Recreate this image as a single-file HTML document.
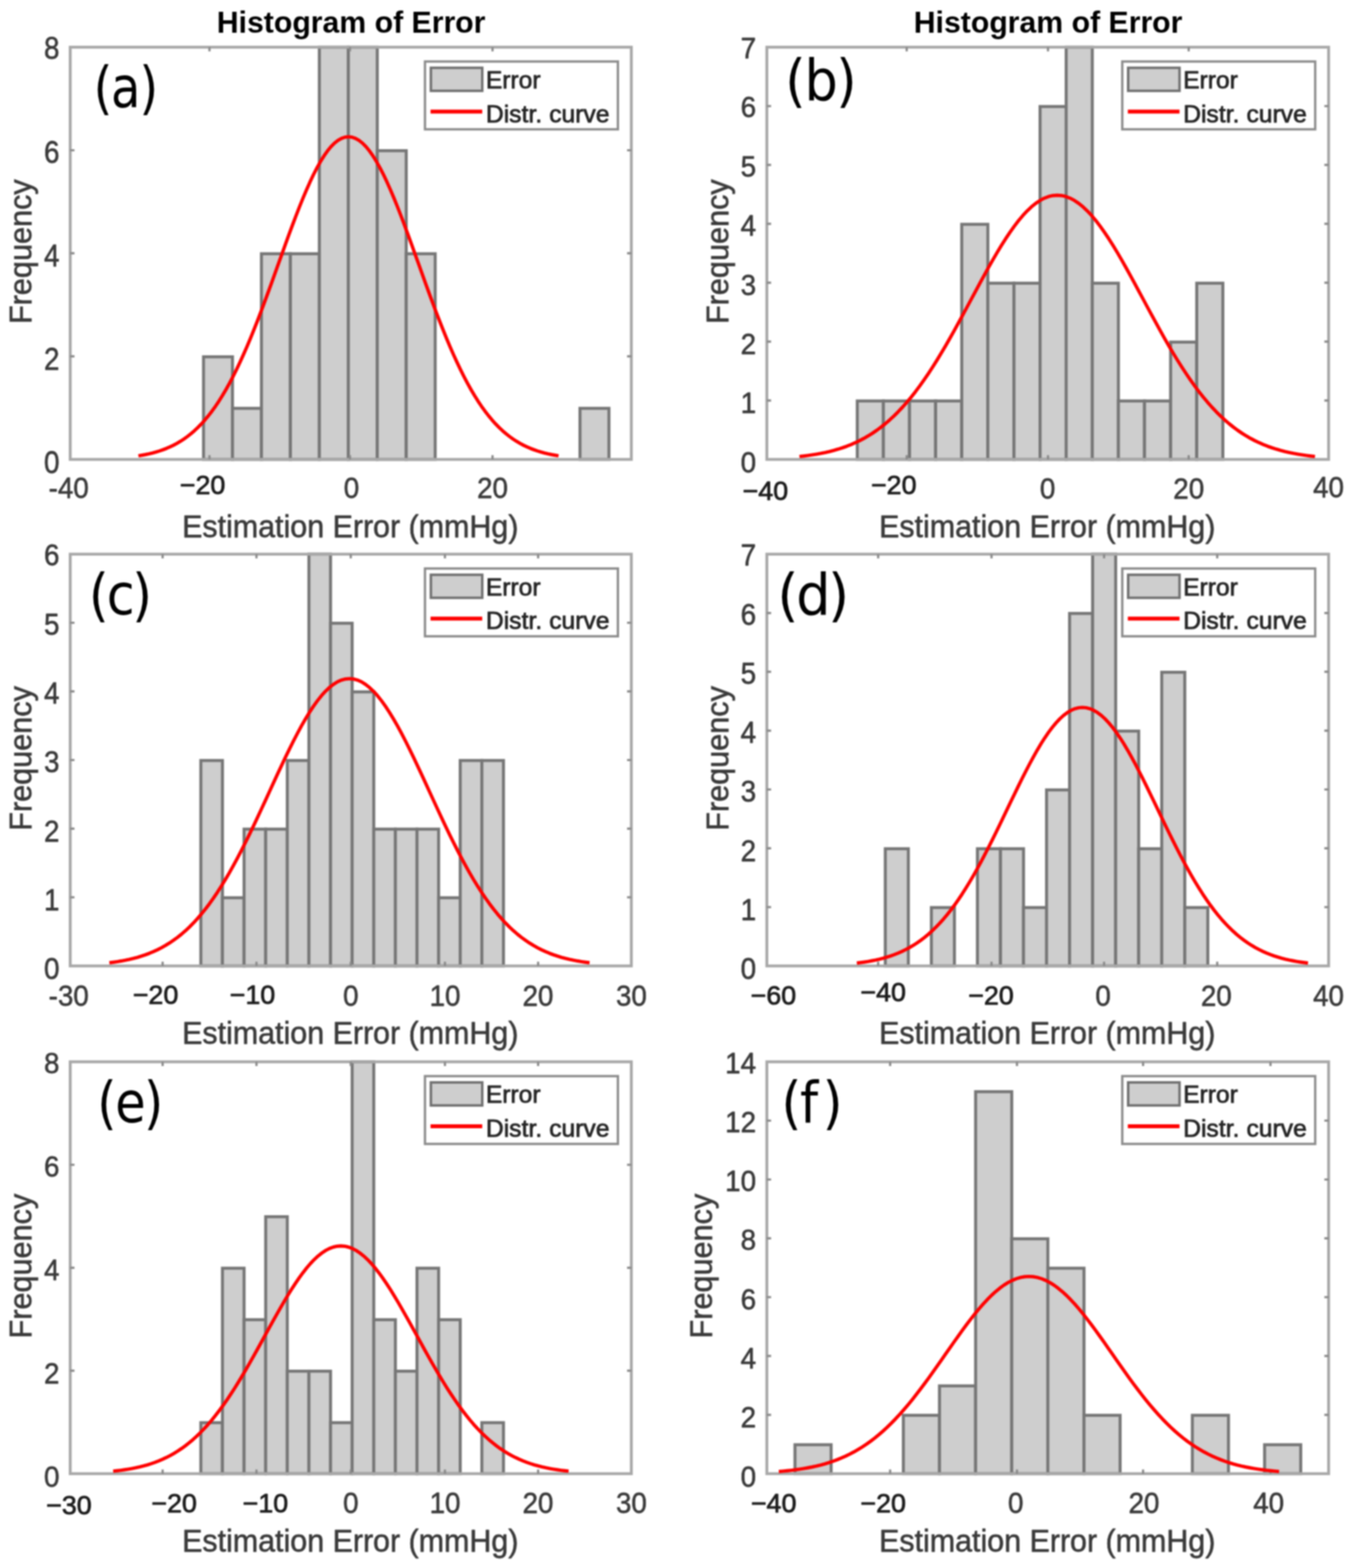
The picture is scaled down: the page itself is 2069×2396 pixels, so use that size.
<!DOCTYPE html>
<html lang="en">
<head>
<meta charset="utf-8">
<title>Histogram of Error</title>
<style>
html,body{margin:0;padding:0;background:#fff;}
body{width:2069px;height:2396px;}
svg{display:block;filter:blur(1.3px);}
text{white-space:pre;}
</style>
</head>
<body>
<svg width="2069" height="2396" viewBox="0 0 2069 2396">
<rect width="2069" height="2396" fill="#ffffff"/>
<g id="panel-a">
<g fill="#cecece" stroke="#767676" stroke-width="4.6" stroke-linejoin="miter">
<rect x="311" y="545.23" width="44.25" height="156.77"/>
<rect x="355.25" y="623.96" width="44.25" height="78.04"/>
<rect x="399.5" y="387.75" width="44.25" height="314.25"/>
<rect x="443.75" y="387.75" width="44.25" height="314.25"/>
<rect x="488" y="72.1" width="44.25" height="629.9"/>
<rect x="532.25" y="72.1" width="44.25" height="629.9"/>
<rect x="576.5" y="230.28" width="44.25" height="471.72"/>
<rect x="620.75" y="387.75" width="44.25" height="314.25"/>
<rect x="886.25" y="623.96" width="44.25" height="78.04"/>
</g>
<rect x="107.3" y="72.1" width="857.4" height="629.9" fill="none" stroke="#a8a8a8" stroke-width="4.4"/>
<path d="M320.1 702v-6.5M320.1 72.1v6.5M534.8 702v-6.5M534.8 72.1v6.5M752.6 702v-6.5M752.6 72.1v6.5M107.3 544.52h6.5M964.7 544.52h-6.5M107.3 387.05h6.5M964.7 387.05h-6.5M107.3 229.58h6.5M964.7 229.58h-6.5" stroke="#8a8a8a" stroke-width="3.4" fill="none"/>
<polyline points="211.5,696.52 216.85,695.64 222.2,694.64 227.55,693.51 232.9,692.22 238.25,690.76 243.6,689.12 248.95,687.28 254.3,685.21 259.65,682.91 265,680.34 270.35,677.49 275.7,674.33 281.05,670.84 286.4,666.99 291.75,662.78 297.1,658.16 302.45,653.13 307.8,647.65 313.15,641.7 318.5,635.28 323.85,628.35 329.2,620.91 334.55,612.94 339.9,604.44 345.25,595.38 350.6,585.78 355.95,575.62 361.3,564.93 366.65,553.7 372,541.95 377.35,529.7 382.7,516.97 388.05,503.8 393.4,490.23 398.75,476.29 404.1,462.03 409.45,447.51 414.8,432.79 420.15,417.92 425.5,402.98 430.85,388.04 436.2,373.18 441.55,358.48 446.9,344.01 452.25,329.86 457.6,316.13 462.95,302.88 468.3,290.21 473.65,278.2 479,266.93 484.35,256.47 489.7,246.9 495.05,238.29 500.4,230.69 505.75,224.17 511.1,218.76 516.45,214.52 521.8,211.46 527.15,209.62 532.5,209 537.85,209.62 543.2,211.46 548.55,214.52 553.9,218.76 559.25,224.17 564.6,230.69 569.95,238.29 575.3,246.9 580.65,256.47 586,266.93 591.35,278.2 596.7,290.21 602.05,302.88 607.4,316.13 612.75,329.86 618.1,344.01 623.45,358.48 628.8,373.18 634.15,388.04 639.5,402.98 644.85,417.92 650.2,432.79 655.55,447.51 660.9,462.03 666.25,476.29 671.6,490.23 676.95,503.8 682.3,516.97 687.65,529.7 693,541.95 698.35,553.7 703.7,564.93 709.05,575.62 714.4,585.78 719.75,595.38 725.1,604.44 730.45,612.94 735.8,620.91 741.15,628.35 746.5,635.28 751.85,641.7 757.2,647.65 762.55,653.13 767.9,658.16 773.25,662.78 778.6,666.99 783.95,670.84 789.3,674.33 794.65,677.49 800,680.34 805.35,682.91 810.7,685.21 816.05,687.28 821.4,689.12 826.75,690.76 832.1,692.22 837.45,693.51 842.8,694.64 848.15,695.64 853.5,696.52" fill="none" stroke="#ff0000" stroke-width="5.2" stroke-linejoin="round" stroke-linecap="butt"/>
<text transform="translate(90.8 723.14) scale(1.000 1.130)" font-size="42.5" text-anchor="end" fill="#3a3a3a" stroke="#3a3a3a" stroke-width="0.8" stroke-linejoin="round" font-family='"Liberation Sans", sans-serif'>0</text>
<text transform="translate(90.8 564.96) scale(1.000 1.130)" font-size="42.5" text-anchor="end" fill="#3a3a3a" stroke="#3a3a3a" stroke-width="0.8" stroke-linejoin="round" font-family='"Liberation Sans", sans-serif'>2</text>
<text transform="translate(90.8 406.79) scale(1.000 1.130)" font-size="42.5" text-anchor="end" fill="#3a3a3a" stroke="#3a3a3a" stroke-width="0.8" stroke-linejoin="round" font-family='"Liberation Sans", sans-serif'>4</text>
<text transform="translate(90.8 248.61) scale(1.000 1.130)" font-size="42.5" text-anchor="end" fill="#3a3a3a" stroke="#3a3a3a" stroke-width="0.8" stroke-linejoin="round" font-family='"Liberation Sans", sans-serif'>6</text>
<text transform="translate(90.8 90.44) scale(1.000 1.130)" font-size="42.5" text-anchor="end" fill="#3a3a3a" stroke="#3a3a3a" stroke-width="0.8" stroke-linejoin="round" font-family='"Liberation Sans", sans-serif'>8</text>
<text transform="translate(105 761) scale(1.000 1.060)" font-size="42.5" text-anchor="middle" fill="#3a3a3a" stroke="#3a3a3a" stroke-width="0.8" stroke-linejoin="round" font-family='"Liberation Sans", sans-serif'>-40</text>
<text x="309.5" y="755.1" font-size="41" text-anchor="middle" fill="#1c1c1c" stroke="#1c1c1c" stroke-width="1.1" stroke-linejoin="round" font-family='"Liberation Sans", sans-serif'>−20</text>
<text transform="translate(537 761) scale(1.000 1.060)" font-size="42.5" text-anchor="middle" fill="#3a3a3a" stroke="#3a3a3a" stroke-width="0.8" stroke-linejoin="round" font-family='"Liberation Sans", sans-serif'>0</text>
<text transform="translate(752.5 761) scale(1.000 1.060)" font-size="42.5" text-anchor="middle" fill="#3a3a3a" stroke="#3a3a3a" stroke-width="0.8" stroke-linejoin="round" font-family='"Liberation Sans", sans-serif'>20</text>
<text transform="translate(535.2 821.3) scale(1.000 1.050)" font-size="46.5" text-anchor="middle" fill="#3a3a3a" stroke="#3a3a3a" stroke-width="0.8" stroke-linejoin="round" font-family='"Liberation Sans", sans-serif'>Estimation Error (mmHg)</text>
<text transform="translate(48.1 384.55) rotate(-90) scale(1.006 1.04)" font-size="46.5" text-anchor="middle" fill="#3a3a3a" stroke="#3a3a3a" stroke-width="0.8" font-family='"Liberation Sans", sans-serif'>Frequency</text>
<text x="536.5" y="50.2" font-size="46.2" text-anchor="middle" fill="#000" font-weight="bold" font-family='"Liberation Sans", sans-serif'>Histogram of Error</text>
<rect x="649.4" y="94" width="294.8" height="103.6" fill="#fff" stroke="#8c8c8c" stroke-width="3.6"/>
<rect x="658.4" y="103.6" width="78.5" height="35.2" fill="#cecece" stroke="#707070" stroke-width="3.8"/>
<line x1="657.9" y1="170.5" x2="736.9" y2="170.5" stroke="#ff0000" stroke-width="6"/>
<text x="742.4" y="134.8" font-size="37.6" text-anchor="start" fill="#262626" stroke="#262626" stroke-width="1.1" stroke-linejoin="round" font-family='"Liberation Sans", sans-serif'>Error</text>
<text x="742.4" y="186.5" font-size="37.6" text-anchor="start" fill="#262626" stroke="#262626" stroke-width="1.1" stroke-linejoin="round" font-family='"Liberation Sans", sans-serif' textLength="189" lengthAdjust="spacing">Distr. curve</text>
<text transform="scale(0.8375 1)" x="170.63 202.43 254.2" y="164.5" font-size="88" fill="#000" font-family='"DejaVu Sans", "Liberation Sans", sans-serif'>(a)</text>
</g>
<g id="panel-b">
<g fill="#cecece" stroke="#767676" stroke-width="4.6" stroke-linejoin="miter">
<rect x="1310" y="612.71" width="39.9" height="89.29"/>
<rect x="1349.9" y="612.71" width="39.9" height="89.29"/>
<rect x="1389.8" y="612.71" width="39.9" height="89.29"/>
<rect x="1429.7" y="612.71" width="39.9" height="89.29"/>
<rect x="1469.6" y="342.76" width="39.9" height="359.24"/>
<rect x="1509.5" y="432.74" width="39.9" height="269.26"/>
<rect x="1549.4" y="432.74" width="39.9" height="269.26"/>
<rect x="1589.3" y="162.79" width="39.9" height="539.21"/>
<rect x="1629.2" y="72.1" width="39.9" height="629.9"/>
<rect x="1669.1" y="432.74" width="39.9" height="269.26"/>
<rect x="1709" y="612.71" width="39.9" height="89.29"/>
<rect x="1748.9" y="612.71" width="39.9" height="89.29"/>
<rect x="1788.8" y="522.73" width="39.9" height="179.27"/>
<rect x="1828.7" y="432.74" width="39.9" height="269.26"/>
</g>
<rect x="1171.8" y="72.1" width="858.4" height="629.9" fill="none" stroke="#a8a8a8" stroke-width="4.4"/>
<path d="M1385.5 702v-6.5M1385.5 72.1v6.5M1601.4 702v-6.5M1601.4 72.1v6.5M1816.4 702v-6.5M1816.4 72.1v6.5M1171.8 612.01h6.5M2030.2 612.01h-6.5M1171.8 522.03h6.5M2030.2 522.03h-6.5M1171.8 432.04h6.5M2030.2 432.04h-6.5M1171.8 342.06h6.5M2030.2 342.06h-6.5M1171.8 252.07h6.5M2030.2 252.07h-6.5M1171.8 162.09h6.5M2030.2 162.09h-6.5" stroke="#8a8a8a" stroke-width="3.4" fill="none"/>
<polyline points="1221.6,697.52 1228.16,696.8 1234.73,695.98 1241.29,695.05 1247.86,693.99 1254.42,692.8 1260.99,691.45 1267.55,689.95 1274.12,688.26 1280.68,686.37 1287.25,684.26 1293.81,681.93 1300.38,679.34 1306.94,676.48 1313.51,673.34 1320.07,669.88 1326.64,666.1 1333.2,661.98 1339.77,657.49 1346.33,652.63 1352.9,647.37 1359.46,641.69 1366.03,635.6 1372.59,629.08 1379.16,622.11 1385.72,614.69 1392.29,606.83 1398.86,598.52 1405.42,589.76 1411.98,580.56 1418.55,570.94 1425.12,560.91 1431.68,550.49 1438.24,539.7 1444.81,528.59 1451.38,517.17 1457.94,505.5 1464.5,493.61 1471.07,481.55 1477.63,469.38 1484.2,457.14 1490.76,444.91 1497.33,432.74 1503.89,420.7 1510.46,408.85 1517.02,397.27 1523.59,386.02 1530.15,375.18 1536.72,364.8 1543.28,354.97 1549.85,345.74 1556.41,337.17 1562.98,329.34 1569.54,322.28 1576.11,316.06 1582.67,310.72 1589.24,306.29 1595.8,302.82 1602.37,300.31 1608.93,298.8 1615.5,298.3 1622.07,298.8 1628.63,300.31 1635.19,302.82 1641.76,306.29 1648.33,310.72 1654.89,316.06 1661.45,322.28 1668.02,329.34 1674.59,337.17 1681.15,345.74 1687.71,354.97 1694.28,364.8 1700.84,375.18 1707.41,386.02 1713.97,397.27 1720.54,408.85 1727.11,420.7 1733.67,432.74 1740.23,444.91 1746.8,457.14 1753.36,469.38 1759.93,481.55 1766.49,493.61 1773.06,505.5 1779.62,517.17 1786.19,528.59 1792.76,539.7 1799.32,550.49 1805.88,560.91 1812.45,570.94 1819.01,580.56 1825.58,589.76 1832.14,598.52 1838.71,606.83 1845.27,614.69 1851.84,622.11 1858.4,629.08 1864.97,635.6 1871.53,641.69 1878.1,647.37 1884.66,652.63 1891.23,657.49 1897.8,661.98 1904.36,666.1 1910.92,669.88 1917.49,673.34 1924.05,676.48 1930.62,679.34 1937.18,681.93 1943.75,684.26 1950.32,686.37 1956.88,688.26 1963.44,689.95 1970.01,691.45 1976.58,692.8 1983.14,693.99 1989.7,695.05 1996.27,695.98 2002.84,696.8 2009.4,697.52" fill="none" stroke="#ff0000" stroke-width="5.2" stroke-linejoin="round" stroke-linecap="butt"/>
<text transform="translate(1155.3 721.8) scale(1.000 1.040)" font-size="42.5" text-anchor="end" fill="#3a3a3a" stroke="#3a3a3a" stroke-width="0.8" stroke-linejoin="round" font-family='"Liberation Sans", sans-serif'>0</text>
<text transform="translate(1155.3 631.41) scale(1.000 1.040)" font-size="42.5" text-anchor="end" fill="#3a3a3a" stroke="#3a3a3a" stroke-width="0.8" stroke-linejoin="round" font-family='"Liberation Sans", sans-serif'>1</text>
<text transform="translate(1155.3 541.02) scale(1.000 1.040)" font-size="42.5" text-anchor="end" fill="#3a3a3a" stroke="#3a3a3a" stroke-width="0.8" stroke-linejoin="round" font-family='"Liberation Sans", sans-serif'>2</text>
<text transform="translate(1155.3 450.64) scale(1.000 1.040)" font-size="42.5" text-anchor="end" fill="#3a3a3a" stroke="#3a3a3a" stroke-width="0.8" stroke-linejoin="round" font-family='"Liberation Sans", sans-serif'>3</text>
<text transform="translate(1155.3 360.25) scale(1.000 1.040)" font-size="42.5" text-anchor="end" fill="#3a3a3a" stroke="#3a3a3a" stroke-width="0.8" stroke-linejoin="round" font-family='"Liberation Sans", sans-serif'>4</text>
<text transform="translate(1155.3 269.87) scale(1.000 1.040)" font-size="42.5" text-anchor="end" fill="#3a3a3a" stroke="#3a3a3a" stroke-width="0.8" stroke-linejoin="round" font-family='"Liberation Sans", sans-serif'>5</text>
<text transform="translate(1155.3 179.48) scale(1.000 1.040)" font-size="42.5" text-anchor="end" fill="#3a3a3a" stroke="#3a3a3a" stroke-width="0.8" stroke-linejoin="round" font-family='"Liberation Sans", sans-serif'>6</text>
<text transform="translate(1155.3 89.1) scale(1.000 1.040)" font-size="42.5" text-anchor="end" fill="#3a3a3a" stroke="#3a3a3a" stroke-width="0.8" stroke-linejoin="round" font-family='"Liberation Sans", sans-serif'>7</text>
<text x="1169.5" y="763.8" font-size="41" text-anchor="middle" fill="#1c1c1c" stroke="#1c1c1c" stroke-width="1.1" stroke-linejoin="round" font-family='"Liberation Sans", sans-serif'>−40</text>
<text x="1365.7" y="755.1" font-size="41" text-anchor="middle" fill="#1c1c1c" stroke="#1c1c1c" stroke-width="1.1" stroke-linejoin="round" font-family='"Liberation Sans", sans-serif'>−20</text>
<text transform="translate(1600.7 761.8) scale(1.000 1.060)" font-size="42.5" text-anchor="middle" fill="#3a3a3a" stroke="#3a3a3a" stroke-width="0.8" stroke-linejoin="round" font-family='"Liberation Sans", sans-serif'>0</text>
<text transform="translate(1816.4 761.8) scale(1.000 1.060)" font-size="42.5" text-anchor="middle" fill="#3a3a3a" stroke="#3a3a3a" stroke-width="0.8" stroke-linejoin="round" font-family='"Liberation Sans", sans-serif'>20</text>
<text transform="translate(2030 759.5) scale(1.000 1.060)" font-size="42.5" text-anchor="middle" fill="#3a3a3a" stroke="#3a3a3a" stroke-width="0.8" stroke-linejoin="round" font-family='"Liberation Sans", sans-serif'>40</text>
<text transform="translate(1600.2 821.3) scale(1.000 1.050)" font-size="46.5" text-anchor="middle" fill="#3a3a3a" stroke="#3a3a3a" stroke-width="0.8" stroke-linejoin="round" font-family='"Liberation Sans", sans-serif'>Estimation Error (mmHg)</text>
<text transform="translate(1112.6 384.55) rotate(-90) scale(1.006 1.04)" font-size="46.5" text-anchor="middle" fill="#3a3a3a" stroke="#3a3a3a" stroke-width="0.8" font-family='"Liberation Sans", sans-serif'>Frequency</text>
<text x="1601.5" y="50.2" font-size="46.2" text-anchor="middle" fill="#000" font-weight="bold" font-family='"Liberation Sans", sans-serif'>Histogram of Error</text>
<rect x="1714.9" y="94" width="294.8" height="103.6" fill="#fff" stroke="#8c8c8c" stroke-width="3.6"/>
<rect x="1723.9" y="103.6" width="78.5" height="35.2" fill="#cecece" stroke="#707070" stroke-width="3.8"/>
<line x1="1723.4" y1="170.5" x2="1802.4" y2="170.5" stroke="#ff0000" stroke-width="6"/>
<text x="1807.9" y="134.8" font-size="37.6" text-anchor="start" fill="#262626" stroke="#262626" stroke-width="1.1" stroke-linejoin="round" font-family='"Liberation Sans", sans-serif'>Error</text>
<text x="1807.9" y="186.5" font-size="37.6" text-anchor="start" fill="#262626" stroke="#262626" stroke-width="1.1" stroke-linejoin="round" font-family='"Liberation Sans", sans-serif' textLength="189" lengthAdjust="spacing">Distr. curve</text>
<text transform="scale(0.9146 1)" x="1311.92 1343.99 1397.15" y="152.85" font-size="88" fill="#000" font-family='"DejaVu Sans", "Liberation Sans", sans-serif'>(b)</text>
</g>
<g id="panel-c">
<g fill="#cecece" stroke="#767676" stroke-width="4.6" stroke-linejoin="miter">
<rect x="306.9" y="1162.1" width="33.03" height="313.9"/>
<rect x="339.93" y="1371.83" width="33.03" height="104.17"/>
<rect x="372.96" y="1266.97" width="33.03" height="209.03"/>
<rect x="405.99" y="1266.97" width="33.03" height="209.03"/>
<rect x="439.02" y="1162.1" width="33.03" height="313.9"/>
<rect x="472.05" y="846.8" width="33.03" height="629.2"/>
<rect x="505.08" y="952.37" width="33.03" height="523.63"/>
<rect x="538.11" y="1057.23" width="33.03" height="418.77"/>
<rect x="571.14" y="1266.97" width="33.03" height="209.03"/>
<rect x="604.17" y="1266.97" width="33.03" height="209.03"/>
<rect x="637.2" y="1266.97" width="33.03" height="209.03"/>
<rect x="670.23" y="1371.83" width="33.03" height="104.17"/>
<rect x="703.26" y="1162.1" width="33.03" height="313.9"/>
<rect x="736.29" y="1162.1" width="33.03" height="313.9"/>
</g>
<rect x="107.3" y="846.8" width="857.4" height="629.2" fill="none" stroke="#a8a8a8" stroke-width="4.4"/>
<path d="M248.5 1476v-6.5M248.5 846.8v6.5M391.9 1476v-6.5M391.9 846.8v6.5M536 1476v-6.5M536 846.8v6.5M679.9 1476v-6.5M679.9 846.8v6.5M822.3 1476v-6.5M822.3 846.8v6.5M107.3 1371.13h6.5M964.7 1371.13h-6.5M107.3 1266.27h6.5M964.7 1266.27h-6.5M107.3 1161.4h6.5M964.7 1161.4h-6.5M107.3 1056.53h6.5M964.7 1056.53h-6.5M107.3 951.67h6.5M964.7 951.67h-6.5" stroke="#8a8a8a" stroke-width="3.4" fill="none"/>
<polyline points="167.1,1471.12 173.22,1470.34 179.33,1469.45 185.45,1468.44 191.56,1467.29 197.68,1465.99 203.79,1464.53 209.91,1462.89 216.02,1461.05 222.14,1459 228.25,1456.71 234.37,1454.17 240.48,1451.36 246.6,1448.25 252.71,1444.83 258.83,1441.07 264.94,1436.96 271.06,1432.48 277.17,1427.6 283.29,1422.31 289.4,1416.59 295.51,1410.42 301.63,1403.8 307.75,1396.7 313.86,1389.12 319.98,1381.06 326.09,1372.51 332.21,1363.47 338.32,1353.94 344.44,1343.94 350.55,1333.48 356.67,1322.57 362.78,1311.24 368.89,1299.51 375.01,1287.42 381.12,1275.01 387.24,1262.32 393.36,1249.39 399.47,1236.27 405.59,1223.04 411.7,1209.73 417.82,1196.43 423.93,1183.2 430.05,1170.1 436.16,1157.22 442.28,1144.63 448.39,1132.39 454.5,1120.6 460.62,1109.32 466.74,1098.62 472.85,1088.58 478.96,1079.27 485.08,1070.75 491.19,1063.08 497.31,1056.32 503.43,1050.51 509.54,1045.69 515.65,1041.91 521.77,1039.19 527.88,1037.55 534,1037 540.12,1037.55 546.23,1039.19 552.35,1041.91 558.46,1045.69 564.58,1050.51 570.69,1056.32 576.81,1063.08 582.92,1070.75 589.04,1079.27 595.15,1088.58 601.26,1098.62 607.38,1109.32 613.49,1120.6 619.61,1132.39 625.73,1144.63 631.84,1157.22 637.95,1170.1 644.07,1183.2 650.18,1196.43 656.3,1209.73 662.41,1223.04 668.53,1236.27 674.64,1249.39 680.76,1262.32 686.88,1275.01 692.99,1287.42 699.11,1299.51 705.22,1311.24 711.34,1322.57 717.45,1333.48 723.57,1343.94 729.68,1353.94 735.79,1363.47 741.91,1372.51 748.02,1381.06 754.14,1389.12 760.25,1396.7 766.37,1403.8 772.49,1410.42 778.6,1416.59 784.71,1422.31 790.83,1427.6 796.94,1432.48 803.06,1436.96 809.18,1441.07 815.29,1444.83 821.4,1448.25 827.52,1451.36 833.63,1454.17 839.75,1456.71 845.86,1459 851.98,1461.05 858.1,1462.89 864.21,1464.53 870.33,1465.99 876.44,1467.29 882.55,1468.44 888.67,1469.45 894.78,1470.34 900.9,1471.12" fill="none" stroke="#ff0000" stroke-width="5.2" stroke-linejoin="round" stroke-linecap="butt"/>
<text transform="translate(90.8 1496.39) scale(1.000 1.080)" font-size="42.5" text-anchor="end" fill="#3a3a3a" stroke="#3a3a3a" stroke-width="0.8" stroke-linejoin="round" font-family='"Liberation Sans", sans-serif'>0</text>
<text transform="translate(90.8 1391.06) scale(1.000 1.080)" font-size="42.5" text-anchor="end" fill="#3a3a3a" stroke="#3a3a3a" stroke-width="0.8" stroke-linejoin="round" font-family='"Liberation Sans", sans-serif'>1</text>
<text transform="translate(90.8 1285.73) scale(1.000 1.080)" font-size="42.5" text-anchor="end" fill="#3a3a3a" stroke="#3a3a3a" stroke-width="0.8" stroke-linejoin="round" font-family='"Liberation Sans", sans-serif'>2</text>
<text transform="translate(90.8 1180.39) scale(1.000 1.080)" font-size="42.5" text-anchor="end" fill="#3a3a3a" stroke="#3a3a3a" stroke-width="0.8" stroke-linejoin="round" font-family='"Liberation Sans", sans-serif'>3</text>
<text transform="translate(90.8 1075.06) scale(1.000 1.080)" font-size="42.5" text-anchor="end" fill="#3a3a3a" stroke="#3a3a3a" stroke-width="0.8" stroke-linejoin="round" font-family='"Liberation Sans", sans-serif'>4</text>
<text transform="translate(90.8 969.73) scale(1.000 1.080)" font-size="42.5" text-anchor="end" fill="#3a3a3a" stroke="#3a3a3a" stroke-width="0.8" stroke-linejoin="round" font-family='"Liberation Sans", sans-serif'>5</text>
<text transform="translate(90.8 864.39) scale(1.000 1.080)" font-size="42.5" text-anchor="end" fill="#3a3a3a" stroke="#3a3a3a" stroke-width="0.8" stroke-linejoin="round" font-family='"Liberation Sans", sans-serif'>6</text>
<text transform="translate(105 1536.8) scale(1.000 1.060)" font-size="42.5" text-anchor="middle" fill="#3a3a3a" stroke="#3a3a3a" stroke-width="0.8" stroke-linejoin="round" font-family='"Liberation Sans", sans-serif'>-30</text>
<text x="237.7" y="1533.8" font-size="41" text-anchor="middle" fill="#1c1c1c" stroke="#1c1c1c" stroke-width="1.1" stroke-linejoin="round" font-family='"Liberation Sans", sans-serif'>−20</text>
<text x="385.9" y="1533.5" font-size="41" text-anchor="middle" fill="#1c1c1c" stroke="#1c1c1c" stroke-width="1.1" stroke-linejoin="round" font-family='"Liberation Sans", sans-serif'>−10</text>
<text transform="translate(536 1536.8) scale(1.000 1.060)" font-size="42.5" text-anchor="middle" fill="#3a3a3a" stroke="#3a3a3a" stroke-width="0.8" stroke-linejoin="round" font-family='"Liberation Sans", sans-serif'>0</text>
<text transform="translate(680 1536.8) scale(1.000 1.060)" font-size="42.5" text-anchor="middle" fill="#3a3a3a" stroke="#3a3a3a" stroke-width="0.8" stroke-linejoin="round" font-family='"Liberation Sans", sans-serif'>10</text>
<text transform="translate(822 1536.8) scale(1.000 1.060)" font-size="42.5" text-anchor="middle" fill="#3a3a3a" stroke="#3a3a3a" stroke-width="0.8" stroke-linejoin="round" font-family='"Liberation Sans", sans-serif'>20</text>
<text transform="translate(964.8 1536.8) scale(1.000 1.060)" font-size="42.5" text-anchor="middle" fill="#3a3a3a" stroke="#3a3a3a" stroke-width="0.8" stroke-linejoin="round" font-family='"Liberation Sans", sans-serif'>30</text>
<text transform="translate(535.2 1595.3) scale(1.000 1.050)" font-size="46.5" text-anchor="middle" fill="#3a3a3a" stroke="#3a3a3a" stroke-width="0.8" stroke-linejoin="round" font-family='"Liberation Sans", sans-serif'>Estimation Error (mmHg)</text>
<text transform="translate(48.1 1158.9) rotate(-90) scale(1.006 1.04)" font-size="46.5" text-anchor="middle" fill="#3a3a3a" stroke="#3a3a3a" stroke-width="0.8" font-family='"Liberation Sans", sans-serif'>Frequency</text>
<rect x="649.4" y="868.7" width="294.8" height="103.6" fill="#fff" stroke="#8c8c8c" stroke-width="3.6"/>
<rect x="658.4" y="878.3" width="78.5" height="35.2" fill="#cecece" stroke="#707070" stroke-width="3.8"/>
<line x1="657.9" y1="945.2" x2="736.9" y2="945.2" stroke="#ff0000" stroke-width="6"/>
<text x="742.4" y="909.5" font-size="37.6" text-anchor="start" fill="#262626" stroke="#262626" stroke-width="1.1" stroke-linejoin="round" font-family='"Liberation Sans", sans-serif'>Error</text>
<text x="742.4" y="961.2" font-size="37.6" text-anchor="start" fill="#262626" stroke="#262626" stroke-width="1.1" stroke-linejoin="round" font-family='"Liberation Sans", sans-serif' textLength="189" lengthAdjust="spacing">Distr. curve</text>
<text transform="scale(0.8853 1)" x="153.44 184.18 228.22" y="939.5" font-size="88" fill="#000" font-family='"DejaVu Sans", "Liberation Sans", sans-serif'>(c)</text>
</g>
<g id="panel-d">
<g fill="#cecece" stroke="#767676" stroke-width="4.6" stroke-linejoin="miter">
<rect x="1352.8" y="1296.93" width="35.2" height="179.07"/>
<rect x="1423.2" y="1386.81" width="35.2" height="89.19"/>
<rect x="1493.6" y="1296.93" width="35.2" height="179.07"/>
<rect x="1528.8" y="1296.93" width="35.2" height="179.07"/>
<rect x="1564" y="1386.81" width="35.2" height="89.19"/>
<rect x="1599.2" y="1207.04" width="35.2" height="268.96"/>
<rect x="1634.4" y="937.39" width="35.2" height="538.61"/>
<rect x="1669.6" y="846.8" width="35.2" height="629.2"/>
<rect x="1704.8" y="1117.16" width="35.2" height="358.84"/>
<rect x="1740" y="1296.93" width="35.2" height="179.07"/>
<rect x="1775.2" y="1027.27" width="35.2" height="448.73"/>
<rect x="1810.4" y="1386.81" width="35.2" height="89.19"/>
</g>
<rect x="1171.8" y="846.8" width="858.4" height="629.2" fill="none" stroke="#a8a8a8" stroke-width="4.4"/>
<path d="M1341.9 1476v-6.5M1341.9 846.8v6.5M1515.1 1476v-6.5M1515.1 846.8v6.5M1687.1 1476v-6.5M1687.1 846.8v6.5M1860 1476v-6.5M1860 846.8v6.5M1171.8 1386.11h6.5M2030.2 1386.11h-6.5M1171.8 1296.23h6.5M2030.2 1296.23h-6.5M1171.8 1206.34h6.5M2030.2 1206.34h-6.5M1171.8 1116.46h6.5M2030.2 1116.46h-6.5M1171.8 1026.57h6.5M2030.2 1026.57h-6.5M1171.8 936.69h6.5M2030.2 936.69h-6.5" stroke="#8a8a8a" stroke-width="3.4" fill="none"/>
<polyline points="1309.3,1471.61 1315.04,1470.91 1320.79,1470.11 1326.53,1469.2 1332.28,1468.16 1338.02,1467 1343.77,1465.68 1349.51,1464.21 1355.26,1462.55 1361,1460.7 1366.75,1458.64 1372.49,1456.36 1378.24,1453.83 1383.98,1451.03 1389.73,1447.95 1395.47,1444.57 1401.22,1440.88 1406.96,1436.84 1412.71,1432.45 1418.45,1427.69 1424.2,1422.54 1429.94,1416.99 1435.69,1411.03 1441.43,1404.65 1447.18,1397.83 1452.92,1390.58 1458.67,1382.88 1464.41,1374.75 1470.16,1366.18 1475.9,1357.18 1481.65,1347.76 1487.39,1337.95 1493.14,1327.75 1498.88,1317.2 1504.63,1306.32 1510.38,1295.16 1516.12,1283.73 1521.87,1272.1 1527.61,1260.3 1533.36,1248.39 1539.1,1236.42 1544.85,1224.45 1550.59,1212.54 1556.34,1200.76 1562.08,1189.17 1567.83,1177.84 1573.57,1166.83 1579.32,1156.22 1585.06,1146.07 1590.81,1136.45 1596.55,1127.41 1602.3,1119.04 1608.04,1111.37 1613.78,1104.47 1619.53,1098.38 1625.28,1093.15 1631.02,1088.82 1636.76,1085.42 1642.51,1082.97 1648.26,1081.49 1654,1081 1659.74,1081.49 1665.49,1082.97 1671.24,1085.42 1676.98,1088.82 1682.72,1093.15 1688.47,1098.38 1694.21,1104.47 1699.96,1111.37 1705.7,1119.04 1711.45,1127.41 1717.2,1136.45 1722.94,1146.07 1728.68,1156.22 1734.43,1166.83 1740.17,1177.84 1745.92,1189.17 1751.66,1200.76 1757.41,1212.54 1763.15,1224.45 1768.9,1236.42 1774.64,1248.39 1780.39,1260.3 1786.13,1272.1 1791.88,1283.73 1797.62,1295.16 1803.37,1306.32 1809.12,1317.2 1814.86,1327.75 1820.61,1337.95 1826.35,1347.76 1832.1,1357.18 1837.84,1366.18 1843.59,1374.75 1849.33,1382.88 1855.08,1390.58 1860.82,1397.83 1866.57,1404.65 1872.31,1411.03 1878.05,1416.99 1883.8,1422.54 1889.55,1427.69 1895.29,1432.45 1901.04,1436.84 1906.78,1440.88 1912.53,1444.57 1918.27,1447.95 1924.01,1451.03 1929.76,1453.83 1935.51,1456.36 1941.25,1458.64 1946.99,1460.7 1952.74,1462.55 1958.49,1464.21 1964.23,1465.68 1969.97,1467 1975.72,1468.16 1981.47,1469.2 1987.21,1470.11 1992.95,1470.91 1998.7,1471.61" fill="none" stroke="#ff0000" stroke-width="5.2" stroke-linejoin="round" stroke-linecap="butt"/>
<text transform="translate(1155.3 1496.24) scale(1.000 1.070)" font-size="42.5" text-anchor="end" fill="#3a3a3a" stroke="#3a3a3a" stroke-width="0.8" stroke-linejoin="round" font-family='"Liberation Sans", sans-serif'>0</text>
<text transform="translate(1155.3 1405.96) scale(1.000 1.070)" font-size="42.5" text-anchor="end" fill="#3a3a3a" stroke="#3a3a3a" stroke-width="0.8" stroke-linejoin="round" font-family='"Liberation Sans", sans-serif'>1</text>
<text transform="translate(1155.3 1315.67) scale(1.000 1.070)" font-size="42.5" text-anchor="end" fill="#3a3a3a" stroke="#3a3a3a" stroke-width="0.8" stroke-linejoin="round" font-family='"Liberation Sans", sans-serif'>2</text>
<text transform="translate(1155.3 1225.39) scale(1.000 1.070)" font-size="42.5" text-anchor="end" fill="#3a3a3a" stroke="#3a3a3a" stroke-width="0.8" stroke-linejoin="round" font-family='"Liberation Sans", sans-serif'>3</text>
<text transform="translate(1155.3 1135.1) scale(1.000 1.070)" font-size="42.5" text-anchor="end" fill="#3a3a3a" stroke="#3a3a3a" stroke-width="0.8" stroke-linejoin="round" font-family='"Liberation Sans", sans-serif'>4</text>
<text transform="translate(1155.3 1044.81) scale(1.000 1.070)" font-size="42.5" text-anchor="end" fill="#3a3a3a" stroke="#3a3a3a" stroke-width="0.8" stroke-linejoin="round" font-family='"Liberation Sans", sans-serif'>5</text>
<text transform="translate(1155.3 954.53) scale(1.000 1.070)" font-size="42.5" text-anchor="end" fill="#3a3a3a" stroke="#3a3a3a" stroke-width="0.8" stroke-linejoin="round" font-family='"Liberation Sans", sans-serif'>6</text>
<text transform="translate(1155.3 864.24) scale(1.000 1.070)" font-size="42.5" text-anchor="end" fill="#3a3a3a" stroke="#3a3a3a" stroke-width="0.8" stroke-linejoin="round" font-family='"Liberation Sans", sans-serif'>7</text>
<text x="1181.9" y="1535.3" font-size="41" text-anchor="middle" fill="#1c1c1c" stroke="#1c1c1c" stroke-width="1.1" stroke-linejoin="round" font-family='"Liberation Sans", sans-serif'>−60</text>
<text x="1349.6" y="1530.3" font-size="41" text-anchor="middle" fill="#1c1c1c" stroke="#1c1c1c" stroke-width="1.1" stroke-linejoin="round" font-family='"Liberation Sans", sans-serif'>−40</text>
<text x="1514.3" y="1535.3" font-size="41" text-anchor="middle" fill="#1c1c1c" stroke="#1c1c1c" stroke-width="1.1" stroke-linejoin="round" font-family='"Liberation Sans", sans-serif'>−20</text>
<text transform="translate(1685.6 1536.8) scale(1.000 1.060)" font-size="42.5" text-anchor="middle" fill="#3a3a3a" stroke="#3a3a3a" stroke-width="0.8" stroke-linejoin="round" font-family='"Liberation Sans", sans-serif'>0</text>
<text transform="translate(1858.6 1536.8) scale(1.000 1.060)" font-size="42.5" text-anchor="middle" fill="#3a3a3a" stroke="#3a3a3a" stroke-width="0.8" stroke-linejoin="round" font-family='"Liberation Sans", sans-serif'>20</text>
<text transform="translate(2030.1 1536.8) scale(1.000 1.060)" font-size="42.5" text-anchor="middle" fill="#3a3a3a" stroke="#3a3a3a" stroke-width="0.8" stroke-linejoin="round" font-family='"Liberation Sans", sans-serif'>40</text>
<text transform="translate(1600.2 1595.3) scale(1.000 1.050)" font-size="46.5" text-anchor="middle" fill="#3a3a3a" stroke="#3a3a3a" stroke-width="0.8" stroke-linejoin="round" font-family='"Liberation Sans", sans-serif'>Estimation Error (mmHg)</text>
<text transform="translate(1112.6 1158.9) rotate(-90) scale(1.006 1.04)" font-size="46.5" text-anchor="middle" fill="#3a3a3a" stroke="#3a3a3a" stroke-width="0.8" font-family='"Liberation Sans", sans-serif'>Frequency</text>
<rect x="1714.9" y="868.7" width="294.8" height="103.6" fill="#fff" stroke="#8c8c8c" stroke-width="3.6"/>
<rect x="1723.9" y="878.3" width="78.5" height="35.2" fill="#cecece" stroke="#707070" stroke-width="3.8"/>
<line x1="1723.4" y1="945.2" x2="1802.4" y2="945.2" stroke="#ff0000" stroke-width="6"/>
<text x="1807.9" y="909.5" font-size="37.6" text-anchor="start" fill="#262626" stroke="#262626" stroke-width="1.1" stroke-linejoin="round" font-family='"Liberation Sans", sans-serif'>Error</text>
<text x="1807.9" y="961.2" font-size="37.6" text-anchor="start" fill="#262626" stroke="#262626" stroke-width="1.1" stroke-linejoin="round" font-family='"Liberation Sans", sans-serif' textLength="189" lengthAdjust="spacing">Distr. curve</text>
<text transform="scale(0.9455 1)" x="1256.22 1286.68 1338.19" y="938.9" font-size="88" fill="#000" font-family='"DejaVu Sans", "Liberation Sans", sans-serif'>(d)</text>
</g>
<g id="panel-e">
<g fill="#cecece" stroke="#767676" stroke-width="4.6" stroke-linejoin="miter">
<rect x="306.9" y="2173.92" width="33.03" height="77.98"/>
<rect x="339.93" y="1937.9" width="33.03" height="314"/>
<rect x="372.96" y="2016.58" width="33.03" height="235.33"/>
<rect x="405.99" y="1859.23" width="33.03" height="392.67"/>
<rect x="439.02" y="2095.25" width="33.03" height="156.65"/>
<rect x="472.05" y="2095.25" width="33.03" height="156.65"/>
<rect x="505.08" y="2173.92" width="33.03" height="77.98"/>
<rect x="538.11" y="1622.5" width="33.03" height="629.4"/>
<rect x="571.14" y="2016.58" width="33.03" height="235.33"/>
<rect x="604.17" y="2095.25" width="33.03" height="156.65"/>
<rect x="637.2" y="1937.9" width="33.03" height="314"/>
<rect x="670.23" y="2016.58" width="33.03" height="235.33"/>
<rect x="736.29" y="2173.92" width="33.03" height="77.98"/>
</g>
<rect x="107.3" y="1622.5" width="857.4" height="629.4" fill="none" stroke="#a8a8a8" stroke-width="4.4"/>
<path d="M248.5 2251.9v-6.5M248.5 1622.5v6.5M391.9 2251.9v-6.5M391.9 1622.5v6.5M536 2251.9v-6.5M536 1622.5v6.5M679.9 2251.9v-6.5M679.9 1622.5v6.5M822.3 2251.9v-6.5M822.3 1622.5v6.5M107.3 2094.55h6.5M964.7 2094.55h-6.5M107.3 1937.2h6.5M964.7 1937.2h-6.5M107.3 1779.85h6.5M964.7 1779.85h-6.5" stroke="#8a8a8a" stroke-width="3.4" fill="none"/>
<polyline points="172.9,2248.03 178.7,2247.41 184.5,2246.71 190.3,2245.9 196.1,2245 201.9,2243.97 207.7,2242.81 213.5,2241.51 219.3,2240.05 225.1,2238.42 230.9,2236.61 236.7,2234.6 242.5,2232.37 248.3,2229.9 254.1,2227.19 259.9,2224.21 265.7,2220.96 271.5,2217.4 277.3,2213.53 283.1,2209.34 288.9,2204.8 294.7,2199.92 300.5,2194.66 306.3,2189.04 312.1,2183.03 317.9,2176.64 323.7,2169.86 329.5,2162.69 335.3,2155.14 341.1,2147.22 346.9,2138.92 352.7,2130.27 358.5,2121.29 364.3,2112 370.1,2102.41 375.9,2092.57 381.7,2082.51 387.5,2072.26 393.3,2061.87 399.1,2051.37 404.9,2040.83 410.7,2030.28 416.5,2019.79 422.3,2009.41 428.1,1999.2 433.9,1989.22 439.7,1979.52 445.5,1970.17 451.3,1961.23 457.1,1952.75 462.9,1944.79 468.7,1937.41 474.5,1930.66 480.3,1924.58 486.1,1919.21 491.9,1914.61 497.7,1910.79 503.5,1907.79 509.3,1905.64 515.1,1904.33 520.9,1903.9 526.7,1904.33 532.5,1905.64 538.3,1907.79 544.1,1910.79 549.9,1914.61 555.7,1919.21 561.5,1924.58 567.3,1930.66 573.1,1937.41 578.9,1944.79 584.7,1952.75 590.5,1961.23 596.3,1970.17 602.1,1979.52 607.9,1989.22 613.7,1999.2 619.5,2009.41 625.3,2019.79 631.1,2030.28 636.9,2040.83 642.7,2051.37 648.5,2061.87 654.3,2072.26 660.1,2082.51 665.9,2092.57 671.7,2102.41 677.5,2112 683.3,2121.29 689.1,2130.27 694.9,2138.92 700.7,2147.22 706.5,2155.14 712.3,2162.69 718.1,2169.86 723.9,2176.64 729.7,2183.03 735.5,2189.04 741.3,2194.66 747.1,2199.92 752.9,2204.8 758.7,2209.34 764.5,2213.53 770.3,2217.4 776.1,2220.96 781.9,2224.21 787.7,2227.19 793.5,2229.9 799.3,2232.37 805.1,2234.6 810.9,2236.61 816.7,2238.42 822.5,2240.05 828.3,2241.51 834.1,2242.81 839.9,2243.97 845.7,2245 851.5,2245.9 857.3,2246.71 863.1,2247.41 868.9,2248.03" fill="none" stroke="#ff0000" stroke-width="5.2" stroke-linejoin="round" stroke-linecap="butt"/>
<text transform="translate(90.8 2271.85) scale(1.000 1.050)" font-size="42.5" text-anchor="end" fill="#3a3a3a" stroke="#3a3a3a" stroke-width="0.8" stroke-linejoin="round" font-family='"Liberation Sans", sans-serif'>0</text>
<text transform="translate(90.8 2113.8) scale(1.000 1.050)" font-size="42.5" text-anchor="end" fill="#3a3a3a" stroke="#3a3a3a" stroke-width="0.8" stroke-linejoin="round" font-family='"Liberation Sans", sans-serif'>2</text>
<text transform="translate(90.8 1955.75) scale(1.000 1.050)" font-size="42.5" text-anchor="end" fill="#3a3a3a" stroke="#3a3a3a" stroke-width="0.8" stroke-linejoin="round" font-family='"Liberation Sans", sans-serif'>4</text>
<text transform="translate(90.8 1797.69) scale(1.000 1.050)" font-size="42.5" text-anchor="end" fill="#3a3a3a" stroke="#3a3a3a" stroke-width="0.8" stroke-linejoin="round" font-family='"Liberation Sans", sans-serif'>6</text>
<text transform="translate(90.8 1639.64) scale(1.000 1.050)" font-size="42.5" text-anchor="end" fill="#3a3a3a" stroke="#3a3a3a" stroke-width="0.8" stroke-linejoin="round" font-family='"Liberation Sans", sans-serif'>8</text>
<text x="105.4" y="2313.8" font-size="41" text-anchor="middle" fill="#1c1c1c" stroke="#1c1c1c" stroke-width="1.1" stroke-linejoin="round" font-family='"Liberation Sans", sans-serif'>−30</text>
<text x="266" y="2310.9" font-size="41" text-anchor="middle" fill="#1c1c1c" stroke="#1c1c1c" stroke-width="1.1" stroke-linejoin="round" font-family='"Liberation Sans", sans-serif'>−20</text>
<text x="405.5" y="2310.5" font-size="41" text-anchor="middle" fill="#1c1c1c" stroke="#1c1c1c" stroke-width="1.1" stroke-linejoin="round" font-family='"Liberation Sans", sans-serif'>−10</text>
<text transform="translate(536 2312.4) scale(1.000 1.060)" font-size="42.5" text-anchor="middle" fill="#3a3a3a" stroke="#3a3a3a" stroke-width="0.8" stroke-linejoin="round" font-family='"Liberation Sans", sans-serif'>0</text>
<text transform="translate(680 2312.4) scale(1.000 1.060)" font-size="42.5" text-anchor="middle" fill="#3a3a3a" stroke="#3a3a3a" stroke-width="0.8" stroke-linejoin="round" font-family='"Liberation Sans", sans-serif'>10</text>
<text transform="translate(822 2312.4) scale(1.000 1.060)" font-size="42.5" text-anchor="middle" fill="#3a3a3a" stroke="#3a3a3a" stroke-width="0.8" stroke-linejoin="round" font-family='"Liberation Sans", sans-serif'>20</text>
<text transform="translate(964.8 2312.4) scale(1.000 1.060)" font-size="42.5" text-anchor="middle" fill="#3a3a3a" stroke="#3a3a3a" stroke-width="0.8" stroke-linejoin="round" font-family='"Liberation Sans", sans-serif'>30</text>
<text transform="translate(535.2 2371.2) scale(1.000 1.050)" font-size="46.5" text-anchor="middle" fill="#3a3a3a" stroke="#3a3a3a" stroke-width="0.8" stroke-linejoin="round" font-family='"Liberation Sans", sans-serif'>Estimation Error (mmHg)</text>
<text transform="translate(48.1 1934.7) rotate(-90) scale(1.006 1.04)" font-size="46.5" text-anchor="middle" fill="#3a3a3a" stroke="#3a3a3a" stroke-width="0.8" font-family='"Liberation Sans", sans-serif'>Frequency</text>
<rect x="649.4" y="1644.4" width="294.8" height="103.6" fill="#fff" stroke="#8c8c8c" stroke-width="3.6"/>
<rect x="658.4" y="1654" width="78.5" height="35.2" fill="#cecece" stroke="#707070" stroke-width="3.8"/>
<line x1="657.9" y1="1720.9" x2="736.9" y2="1720.9" stroke="#ff0000" stroke-width="6"/>
<text x="742.4" y="1685.2" font-size="37.6" text-anchor="start" fill="#262626" stroke="#262626" stroke-width="1.1" stroke-linejoin="round" font-family='"Liberation Sans", sans-serif'>Error</text>
<text x="742.4" y="1736.9" font-size="37.6" text-anchor="start" fill="#262626" stroke="#262626" stroke-width="1.1" stroke-linejoin="round" font-family='"Liberation Sans", sans-serif' textLength="189" lengthAdjust="spacing">Distr. curve</text>
<text transform="scale(0.8617 1)" x="172.32 204.3 255.24" y="1714.95" font-size="88" fill="#000" font-family='"DejaVu Sans", "Liberation Sans", sans-serif'>(e)</text>
</g>
<g id="panel-f">
<g fill="#cecece" stroke="#767676" stroke-width="4.6" stroke-linejoin="miter">
<rect x="1214.8" y="2207.64" width="55.2" height="44.26"/>
<rect x="1380.4" y="2162.69" width="55.2" height="89.21"/>
<rect x="1435.6" y="2117.73" width="55.2" height="134.17"/>
<rect x="1490.8" y="1668.16" width="55.2" height="583.74"/>
<rect x="1546" y="1892.94" width="55.2" height="358.96"/>
<rect x="1601.2" y="1937.9" width="55.2" height="314"/>
<rect x="1656.4" y="2162.69" width="55.2" height="89.21"/>
<rect x="1822" y="2162.69" width="55.2" height="89.21"/>
<rect x="1932.4" y="2207.64" width="55.2" height="44.26"/>
</g>
<rect x="1171.8" y="1622.5" width="858.4" height="629.4" fill="none" stroke="#a8a8a8" stroke-width="4.4"/>
<path d="M1360.2 2251.9v-6.5M1360.2 1622.5v6.5M1554 2251.9v-6.5M1554 1622.5v6.5M1746.7 2251.9v-6.5M1746.7 1622.5v6.5M1941.4 2251.9v-6.5M1941.4 1622.5v6.5M1171.8 2161.99h6.5M2030.2 2161.99h-6.5M1171.8 2072.07h6.5M2030.2 2072.07h-6.5M1171.8 1982.16h6.5M2030.2 1982.16h-6.5M1171.8 1892.24h6.5M2030.2 1892.24h-6.5M1171.8 1802.33h6.5M2030.2 1802.33h-6.5M1171.8 1712.41h6.5M2030.2 1712.41h-6.5" stroke="#8a8a8a" stroke-width="3.4" fill="none"/>
<polyline points="1190.1,2248.55 1196.47,2248.01 1202.84,2247.4 1209.21,2246.71 1215.58,2245.92 1221.95,2245.03 1228.32,2244.03 1234.69,2242.9 1241.06,2241.64 1247.43,2240.23 1253.8,2238.66 1260.17,2236.91 1266.54,2234.98 1272.91,2232.85 1279.28,2230.5 1285.65,2227.92 1292.02,2225.1 1298.39,2222.02 1304.76,2218.67 1311.13,2215.04 1317.5,2211.11 1323.87,2206.88 1330.24,2202.33 1336.61,2197.46 1342.98,2192.25 1349.35,2186.72 1355.72,2180.85 1362.09,2174.64 1368.46,2168.1 1374.83,2161.23 1381.2,2154.05 1387.57,2146.56 1393.94,2138.78 1400.31,2130.73 1406.68,2122.43 1413.05,2113.91 1419.42,2105.19 1425.79,2096.32 1432.16,2087.31 1438.53,2078.22 1444.9,2069.09 1451.27,2059.96 1457.64,2050.87 1464.01,2041.88 1470.38,2033.04 1476.75,2024.39 1483.12,2015.99 1489.49,2007.9 1495.86,2000.15 1502.23,1992.81 1508.6,1985.92 1514.97,1979.52 1521.34,1973.67 1527.71,1968.41 1534.08,1963.76 1540.45,1959.77 1546.82,1956.47 1553.19,1953.87 1559.56,1952 1565.93,1950.88 1572.3,1950.5 1578.67,1950.88 1585.04,1952 1591.41,1953.87 1597.78,1956.47 1604.15,1959.77 1610.52,1963.76 1616.89,1968.41 1623.26,1973.67 1629.63,1979.52 1636,1985.92 1642.37,1992.81 1648.74,2000.15 1655.11,2007.9 1661.48,2015.99 1667.85,2024.39 1674.22,2033.04 1680.59,2041.88 1686.96,2050.87 1693.33,2059.96 1699.7,2069.09 1706.07,2078.22 1712.44,2087.31 1718.81,2096.32 1725.18,2105.19 1731.55,2113.91 1737.92,2122.43 1744.29,2130.73 1750.66,2138.78 1757.03,2146.56 1763.4,2154.05 1769.77,2161.23 1776.14,2168.1 1782.51,2174.64 1788.88,2180.85 1795.25,2186.72 1801.62,2192.25 1807.99,2197.46 1814.36,2202.33 1820.73,2206.88 1827.1,2211.11 1833.47,2215.04 1839.84,2218.67 1846.21,2222.02 1852.58,2225.1 1858.95,2227.92 1865.32,2230.5 1871.69,2232.85 1878.06,2234.98 1884.43,2236.91 1890.8,2238.66 1897.17,2240.23 1903.54,2241.64 1909.91,2242.9 1916.28,2244.03 1922.65,2245.03 1929.02,2245.92 1935.39,2246.71 1941.76,2247.4 1948.13,2248.01 1954.5,2248.55" fill="none" stroke="#ff0000" stroke-width="5.2" stroke-linejoin="round" stroke-linecap="butt"/>
<text transform="translate(1155.3 2271.7) scale(1.000 1.040)" font-size="42.5" text-anchor="end" fill="#3a3a3a" stroke="#3a3a3a" stroke-width="0.8" stroke-linejoin="round" font-family='"Liberation Sans", sans-serif'>0</text>
<text transform="translate(1155.3 2181.38) scale(1.000 1.040)" font-size="42.5" text-anchor="end" fill="#3a3a3a" stroke="#3a3a3a" stroke-width="0.8" stroke-linejoin="round" font-family='"Liberation Sans", sans-serif'>2</text>
<text transform="translate(1155.3 2091.07) scale(1.000 1.040)" font-size="42.5" text-anchor="end" fill="#3a3a3a" stroke="#3a3a3a" stroke-width="0.8" stroke-linejoin="round" font-family='"Liberation Sans", sans-serif'>4</text>
<text transform="translate(1155.3 2000.75) scale(1.000 1.040)" font-size="42.5" text-anchor="end" fill="#3a3a3a" stroke="#3a3a3a" stroke-width="0.8" stroke-linejoin="round" font-family='"Liberation Sans", sans-serif'>6</text>
<text transform="translate(1155.3 1910.44) scale(1.000 1.040)" font-size="42.5" text-anchor="end" fill="#3a3a3a" stroke="#3a3a3a" stroke-width="0.8" stroke-linejoin="round" font-family='"Liberation Sans", sans-serif'>8</text>
<text transform="translate(1155.3 1820.12) scale(1.000 1.040)" font-size="42.5" text-anchor="end" fill="#3a3a3a" stroke="#3a3a3a" stroke-width="0.8" stroke-linejoin="round" font-family='"Liberation Sans", sans-serif'>10</text>
<text transform="translate(1155.3 1729.81) scale(1.000 1.040)" font-size="42.5" text-anchor="end" fill="#3a3a3a" stroke="#3a3a3a" stroke-width="0.8" stroke-linejoin="round" font-family='"Liberation Sans", sans-serif'>12</text>
<text transform="translate(1155.3 1639.5) scale(1.000 1.040)" font-size="42.5" text-anchor="end" fill="#3a3a3a" stroke="#3a3a3a" stroke-width="0.8" stroke-linejoin="round" font-family='"Liberation Sans", sans-serif'>14</text>
<text x="1182.2" y="2310.9" font-size="41" text-anchor="middle" fill="#1c1c1c" stroke="#1c1c1c" stroke-width="1.1" stroke-linejoin="round" font-family='"Liberation Sans", sans-serif'>−40</text>
<text x="1349.6" y="2310.9" font-size="41" text-anchor="middle" fill="#1c1c1c" stroke="#1c1c1c" stroke-width="1.1" stroke-linejoin="round" font-family='"Liberation Sans", sans-serif'>−20</text>
<text transform="translate(1552 2312.4) scale(1.000 1.060)" font-size="42.5" text-anchor="middle" fill="#3a3a3a" stroke="#3a3a3a" stroke-width="0.8" stroke-linejoin="round" font-family='"Liberation Sans", sans-serif'>0</text>
<text transform="translate(1748 2312.4) scale(1.000 1.060)" font-size="42.5" text-anchor="middle" fill="#3a3a3a" stroke="#3a3a3a" stroke-width="0.8" stroke-linejoin="round" font-family='"Liberation Sans", sans-serif'>20</text>
<text transform="translate(1938.5 2312.4) scale(1.000 1.060)" font-size="42.5" text-anchor="middle" fill="#3a3a3a" stroke="#3a3a3a" stroke-width="0.8" stroke-linejoin="round" font-family='"Liberation Sans", sans-serif'>40</text>
<text transform="translate(1600.2 2371.2) scale(1.000 1.050)" font-size="46.5" text-anchor="middle" fill="#3a3a3a" stroke="#3a3a3a" stroke-width="0.8" stroke-linejoin="round" font-family='"Liberation Sans", sans-serif'>Estimation Error (mmHg)</text>
<text transform="translate(1087.8 1934.7) rotate(-90) scale(1.006 1.04)" font-size="46.5" text-anchor="middle" fill="#3a3a3a" stroke="#3a3a3a" stroke-width="0.8" font-family='"Liberation Sans", sans-serif'>Frequency</text>
<rect x="1714.9" y="1644.4" width="294.8" height="103.6" fill="#fff" stroke="#8c8c8c" stroke-width="3.6"/>
<rect x="1723.9" y="1654" width="78.5" height="35.2" fill="#cecece" stroke="#707070" stroke-width="3.8"/>
<line x1="1723.4" y1="1720.9" x2="1802.4" y2="1720.9" stroke="#ff0000" stroke-width="6"/>
<text x="1807.9" y="1685.2" font-size="37.6" text-anchor="start" fill="#262626" stroke="#262626" stroke-width="1.1" stroke-linejoin="round" font-family='"Liberation Sans", sans-serif'>Error</text>
<text x="1807.9" y="1736.9" font-size="37.6" text-anchor="start" fill="#262626" stroke="#262626" stroke-width="1.1" stroke-linejoin="round" font-family='"Liberation Sans", sans-serif' textLength="189" lengthAdjust="spacing">Distr. curve</text>
<text transform="scale(0.8917 1)" x="1339.04 1371.06 1409.58" y="1714.9" font-size="88" fill="#000" font-family='"DejaVu Sans", "Liberation Sans", sans-serif'>(f)</text>
</g>
</svg>
</body>
</html>
